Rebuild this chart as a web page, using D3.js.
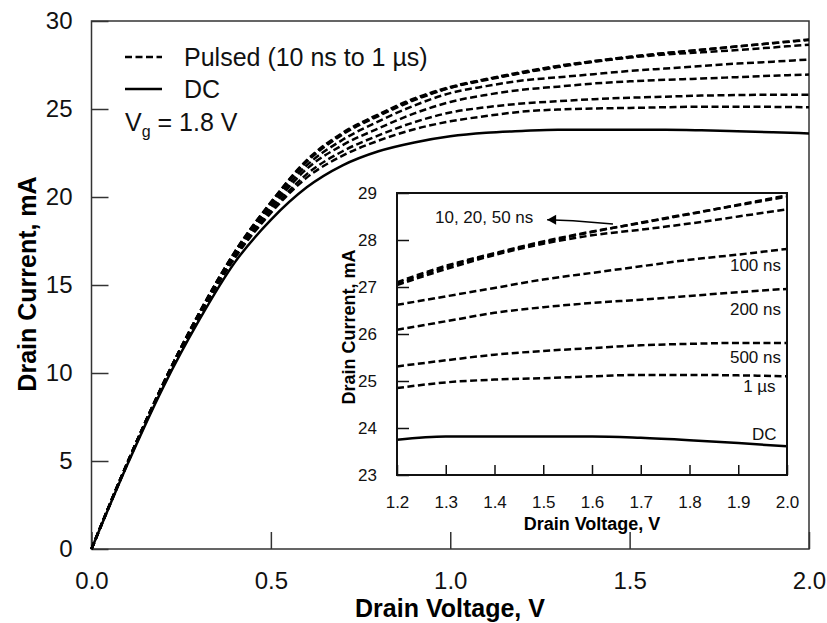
<!DOCTYPE html>
<html>
<head>
<meta charset="utf-8">
<script src="https://cdn.jsdelivr.net/npm/d3@7"></script>
<style>
  html, body { margin: 0; padding: 0; background: #fff; }
  svg { display: block; font-family: "Liberation Sans", Arial, sans-serif; }
</style>
</head>
<body>
<div id="chart"></div>
<script>
// drain voltage (V) sample points
const voltage = [0, 0.1, 0.2, 0.3, 0.4, 0.5, 0.6, 0.7, 0.8, 0.9, 1.0,
                 1.1, 1.2, 1.3, 1.4, 1.5, 1.6, 1.7, 1.8, 1.9, 2.0];

// drain current (mA), pulsed with different widths, and DC
const i10ns  = [0, 4.9, 9.4, 13.4, 16.9, 19.7, 22.1, 23.65, 24.7, 25.6, 26.25, 26.7, 27.1, 27.45, 27.72, 27.97, 28.18, 28.36, 28.55, 28.75, 28.95];
const i20ns  = [0, 4.9, 9.4, 13.4, 16.9, 19.7, 22.05, 23.6, 24.65, 25.55, 26.22, 26.68, 27.06, 27.42, 27.7, 27.95, 28.17, 28.37, 28.56, 28.74, 28.92];
const i50ns  = [0, 4.9, 9.4, 13.4, 16.85, 19.65, 22.0, 23.55, 24.6, 25.5, 26.2, 26.65, 27.04, 27.38, 27.68, 27.92, 28.1, 28.22, 28.35, 28.5, 28.65];
const i100ns = [0, 4.9, 9.4, 13.35, 16.8, 19.5, 21.8, 23.25, 24.3, 25.2, 25.9, 26.3, 26.62, 26.8, 26.98, 27.16, 27.3, 27.44, 27.58, 27.69, 27.81];
const i200ns = [0, 4.9, 9.35, 13.3, 16.7, 19.35, 21.6, 22.95, 23.9, 24.75, 25.4, 25.8, 26.09, 26.27, 26.45, 26.57, 26.66, 26.73, 26.81, 26.89, 26.96];
const i500ns = [0, 4.85, 9.3, 13.25, 16.6, 19.2, 21.3, 22.6, 23.5, 24.25, 24.8, 25.1, 25.31, 25.44, 25.56, 25.64, 25.7, 25.76, 25.79, 25.81, 25.81];
const i1us   = [0, 4.85, 9.3, 13.2, 16.55, 19.1, 21.1, 22.35, 23.2, 23.85, 24.3, 24.6, 24.85, 24.97, 25.03, 25.06, 25.1, 25.13, 25.13, 25.12, 25.1];
const iDC    = [0, 4.8, 9.2, 13.0, 16.3, 18.7, 20.55, 21.8, 22.6, 23.1, 23.45, 23.65, 23.75, 23.82, 23.82, 23.82, 23.82, 23.79, 23.74, 23.68, 23.61];

const pulsed = [i10ns, i20ns, i50ns, i100ns, i200ns, i500ns, i1us];

const mainXTicks = [0, 0.5, 1.0, 1.5, 2.0];
const mainYTicks = [0, 5, 10, 15, 20, 25, 30];
const insetXTicks = [1.2, 1.3, 1.4, 1.5, 1.6, 1.7, 1.8, 1.9, 2.0];
const insetYTicks = [23, 24, 25, 26, 27, 28, 29];

// inset annotations [label, voltage, current]
const insetLabels = [
  ["10, 20, 50 ns", 1.278, 28.36],
  ["100 ns", 1.883, 27.33],
  ["200 ns", 1.883, 26.41],
  ["500 ns", 1.883, 25.39],
  ["1 µs", 1.91, 24.76],
  ["DC", 1.928, 23.74]
];
const arrowPath = [[1.508, 28.43], [1.561, 28.41], [1.643, 28.34]];

const width = 827, height = 623;

const svg = d3.select("#chart").append("svg")
  .attr("width", width)
  .attr("height", height);

// ---------- main plot ----------
const x = d3.scaleLinear().domain([0, 2]).range([91.5, 809]);
const y = d3.scaleLinear().domain([0, 30]).range([549, 21]);

const line = d3.line()
  .x((d, i) => x(voltage[i]))
  .y(d => y(d))
  .curve(d3.curveMonotoneX);

const main = svg.append("g");

main.append("rect")
  .attr("x", x(0)).attr("y", y(30))
  .attr("width", x(2) - x(0)).attr("height", y(0) - y(30))
  .attr("fill", "none").attr("stroke", "#333").attr("stroke-width", 1.5);

const xAxis = main.append("g")
  .attr("transform", `translate(0,${y(0)})`)
  .call(d3.axisBottom(x).tickValues(mainXTicks).tickFormat(d3.format(".1f"))
    .tickSizeInner(-17).tickSizeOuter(0).tickPadding(23));

const yAxis = main.append("g")
  .attr("transform", `translate(${x(0)},0)`)
  .call(d3.axisLeft(y).tickValues(mainYTicks).tickFormat(d3.format("d"))
    .tickSizeInner(-17).tickSizeOuter(0).tickPadding(19));

[xAxis, yAxis].forEach(a => {
  a.select(".domain").remove();
  a.selectAll("line").attr("stroke", "#333").attr("stroke-width", 1.5);
  a.selectAll("text").attr("font-size", 24).attr("fill", "#111")
    .attr("font-family", "Liberation Sans, Arial, sans-serif");
});

main.selectAll(".pulsed")
  .data(pulsed)
  .enter().append("path")
  .attr("class", "pulsed")
  .attr("d", line)
  .attr("fill", "none")
  .attr("stroke", "#000")
  .attr("stroke-width", 2.5)
  .attr("stroke-dasharray", "7,3.5");

main.append("path")
  .attr("d", line(iDC))
  .attr("fill", "none")
  .attr("stroke", "#000")
  .attr("stroke-width", 2.5);

main.append("text")
  .attr("x", 450).attr("y", 617)
  .attr("text-anchor", "middle")
  .attr("font-size", 25).attr("font-weight", "bold")
  .text("Drain Voltage, V");

main.append("text")
  .attr("transform", "translate(36,284) rotate(-90)")
  .attr("text-anchor", "middle")
  .attr("font-size", 25).attr("font-weight", "bold")
  .text("Drain Current, mA");

// legend
const legend = main.append("g").attr("font-size", 25).attr("fill", "#111");
legend.append("line")
  .attr("x1", 125).attr("x2", 162).attr("y1", 57).attr("y2", 57)
  .attr("stroke", "#000").attr("stroke-width", 2.5).attr("stroke-dasharray", "7,3.5");
legend.append("text").attr("x", 184).attr("y", 66).text("Pulsed (10 ns to 1 µs)");
legend.append("line")
  .attr("x1", 125).attr("x2", 162).attr("y1", 89).attr("y2", 89)
  .attr("stroke", "#000").attr("stroke-width", 2.5);
legend.append("text").attr("x", 184).attr("y", 98).text("DC");
const vg = legend.append("text").attr("x", 125).attr("y", 131);
vg.append("tspan").text("V");
vg.append("tspan").attr("font-size", 16).attr("dy", 6).text("g");
vg.append("tspan").attr("dy", -6).text(" = 1.8 V");

// ---------- inset ----------
const xi = d3.scaleLinear().domain([1.2, 2.0]).range([397, 787]);
const yi = d3.scaleLinear().domain([23, 29]).range([475, 193]);

const inset = svg.append("g");

inset.append("rect")
  .attr("x", xi(1.2)).attr("y", yi(29))
  .attr("width", xi(2) - xi(1.2)).attr("height", yi(23) - yi(29))
  .attr("fill", "#fff");

inset.append("clipPath").attr("id", "insetClip")
  .append("rect")
  .attr("x", xi(1.2)).attr("y", yi(29))
  .attr("width", xi(2) - xi(1.2)).attr("height", yi(23) - yi(29));

const lineI = d3.line()
  .defined((d, i) => voltage[i] >= 1.2)
  .x((d, i) => xi(voltage[i]))
  .y(d => yi(d))
  .curve(d3.curveMonotoneX);

const curves = inset.append("g").attr("clip-path", "url(#insetClip)");
curves.selectAll(".pulsedI")
  .data(pulsed)
  .enter().append("path")
  .attr("class", "pulsedI")
  .attr("d", lineI)
  .attr("fill", "none")
  .attr("stroke", "#000")
  .attr("stroke-width", 2.5)
  .attr("stroke-dasharray", "7,3.5");
curves.append("path")
  .attr("d", lineI(iDC))
  .attr("fill", "none")
  .attr("stroke", "#000")
  .attr("stroke-width", 2.5);

inset.append("rect")
  .attr("x", xi(1.2)).attr("y", yi(29))
  .attr("width", xi(2) - xi(1.2)).attr("height", yi(23) - yi(29))
  .attr("fill", "none").attr("stroke", "#111").attr("stroke-width", 2);

const xAxisI = inset.append("g")
  .attr("transform", `translate(0,${yi(23)})`)
  .call(d3.axisBottom(xi).tickValues(insetXTicks).tickFormat(d3.format(".1f"))
    .tickSizeInner(-10).tickSizeOuter(0).tickPadding(21));
const yAxisI = inset.append("g")
  .attr("transform", `translate(${xi(1.2)},0)`)
  .call(d3.axisLeft(yi).tickValues(insetYTicks).tickFormat(d3.format("d"))
    .tickSizeInner(-12).tickSizeOuter(0).tickPadding(20));

[xAxisI, yAxisI].forEach(a => {
  a.select(".domain").remove();
  a.selectAll("line").attr("stroke", "#111").attr("stroke-width", 1.5);
  a.selectAll("text").attr("font-size", 17).attr("fill", "#111")
    .attr("font-family", "Liberation Sans, Arial, sans-serif");
});

inset.append("text")
  .attr("x", 592).attr("y", 530)
  .attr("text-anchor", "middle")
  .attr("font-size", 18).attr("font-weight", "bold")
  .text("Drain Voltage, V");

inset.append("text")
  .attr("transform", "translate(355,327) rotate(-90)")
  .attr("text-anchor", "middle")
  .attr("font-size", 18).attr("font-weight", "bold")
  .text("Drain Current, mA");

inset.selectAll(".lbl")
  .data(insetLabels)
  .enter().append("text")
  .attr("class", "lbl")
  .attr("x", d => xi(d[1]))
  .attr("y", d => yi(d[2]))
  .attr("font-size", 17)
  .attr("fill", "#111")
  .text(d => d[0]);

inset.append("path")
  .attr("d", d3.line().x(d => xi(d[0])).y(d => yi(d[1]))(arrowPath))
  .attr("fill", "none").attr("stroke", "#000").attr("stroke-width", 1.5);

const head = [xi(arrowPath[0][0]), yi(arrowPath[0][1])];
inset.append("path")
  .attr("d", `M${head[0]},${head[1]} L${head[0] + 9},${head[1] - 5} L${head[0] + 9},${head[1] + 5} Z`)
  .attr("fill", "#000");
</script>
</body>
</html>
